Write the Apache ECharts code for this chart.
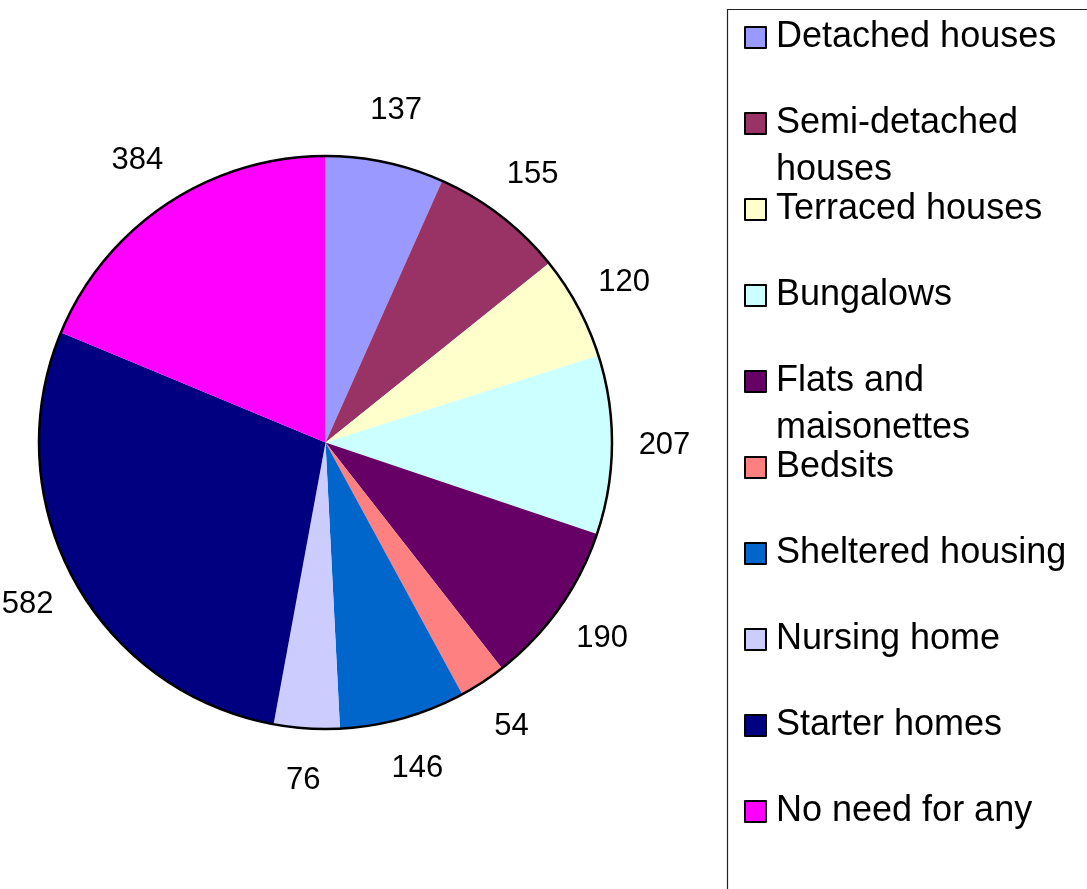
<!DOCTYPE html>
<html>
<head>
<meta charset="utf-8">
<script src="https://cdn.jsdelivr.net/npm/echarts@6/dist/echarts.min.js"></script>
<style>
html,body{margin:0;padding:0;background:#fff;}
#chart{width:1087px;height:889px;}
</style>
</head>
<body>
<div id="chart"></div>
<script>
// ---- data ----
const categories = ['Detached houses','Semi-detached houses','Terraced houses','Bungalows','Flats and maisonettes','Bedsits','Sheltered housing','Nursing home','Starter homes','No need for any'];
const values = [137,155,120,207,190,54,146,76,582,384];
const colors = ['#9999FF','#993366','#FFFFCC','#CCFFFF','#660066','#FF8080','#0066CC','#CCCCFF','#000080','#FF00FF'];
const legendLabels = ['Detached houses','Semi-detached\nhouses','Terraced houses','Bungalows','Flats and\nmaisonettes','Bedsits','Sheltered housing','Nursing home','Starter homes','No need for any'];

// ---- layout ----
const cx = 325.5, cy = 442.5, R = 286.5, labelR = 336;
const FONT = 'Liberation Sans, Arial, sans-serif';
const lineH = 47;

const chart = echarts.init(document.getElementById('chart'), null, {renderer:'canvas'});

const legends = categories.map((name, i) => {
  const center = 37.5 + 86 * i;
  const lines = legendLabels[i].split('\n').length;
  // two-line entries get a leading blank line so the first line sits beside the marker
  const txt = lines > 1 ? '\n' + legendLabels[i] : legendLabels[i];
  const h = lines > 1 ? 3 * lineH : lineH;
  return {
    data: [name],
    orient: 'vertical',
    left: 744,
    top: center - h / 2,
    padding: 0,
    itemWidth: 21,
    itemHeight: 21,
    icon: 'rect',
    itemStyle: {borderColor: '#000', borderWidth: 2},
    formatter: () => txt,
    textStyle: {fontFamily: FONT, fontSize: 36, lineHeight: lineH, color: '#000', padding: [0,0,0,5]},
    selectedMode: false
  };
});

const option = {
  backgroundColor: '#fff',
  animation: false,
  legend: legends,
  graphic: [{
    type: 'rect', z: -1, silent: true,
    shape: {x: 727.5, y: 9.5, width: 500, height: 1000},
    style: {fill: 'none', stroke: '#222', lineWidth: 1.2}
  }],
  series: [
    {
      type: 'pie', center: [cx, cy], radius: R, startAngle: 90, clockwise: true,
      avoidLabelOverlap: false, silent: true,
      label: {show: false}, labelLine: {show: false},
      itemStyle: {borderWidth: 0},
      data: categories.map((n, i) => ({name: n, value: values[i], itemStyle: {color: colors[i]}}))
    },
    {
      // invisible ring that carries the value labels at a fixed distance outside the pie
      type: 'pie', center: [cx, cy], radius: [0, labelR * 2], startAngle: 90, clockwise: true,
      avoidLabelOverlap: false, silent: true, z: 1,
      itemStyle: {color: 'rgba(0,0,0,0)', borderWidth: 0},
      label: {show: true, position: 'inside', formatter: '{c}', fontFamily: FONT, fontSize: 31, color: '#000'},
      labelLine: {show: false},
      data: categories.map((n, i) => ({name: n, value: values[i]}))
    },
    {
      // outer rim
      type: 'pie', center: [cx, cy], radius: R, silent: true, z: 3,
      label: {show: false}, labelLine: {show: false},
      itemStyle: {color: 'rgba(0,0,0,0)', borderColor: '#000', borderWidth: 2.5},
      data: [{name: '_rim', value: 1}]
    }
  ]
};
chart.setOption(option);
</script>
</body>
</html>
